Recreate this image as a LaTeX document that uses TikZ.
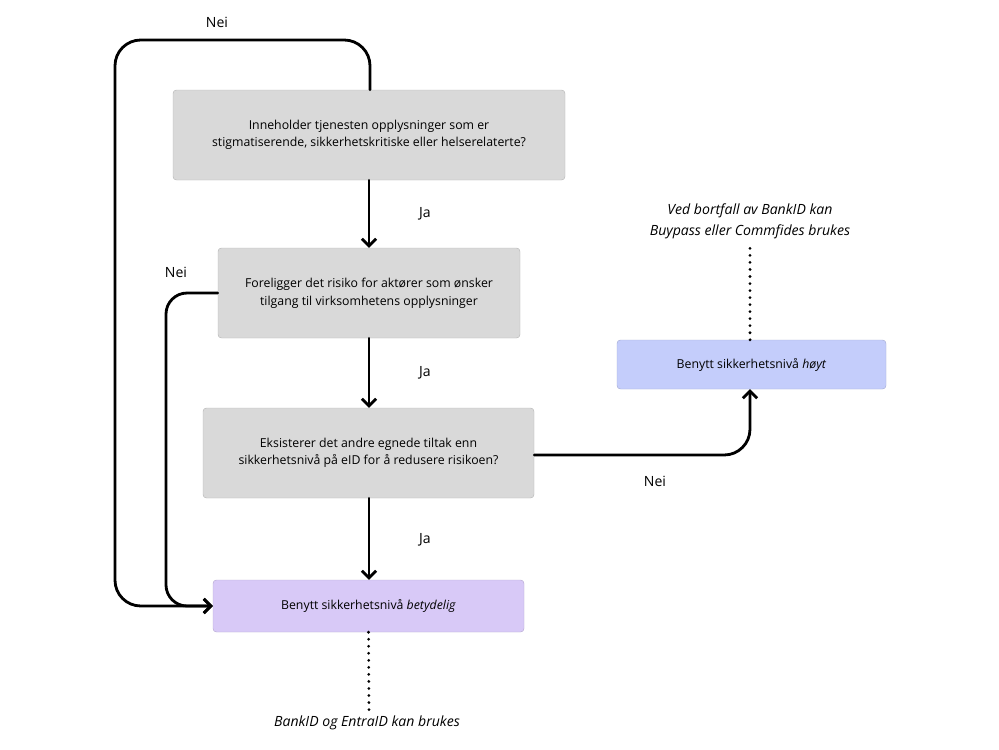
\documentclass[tikz,border=0pt]{standalone}
\usepackage{fontspec}
\setmainfont{Open Sans}
\usetikzlibrary{arrows.meta}
\definecolor{boxgray}{HTML}{D9D9D9}
\definecolor{boxpurple}{HTML}{D8C9F7}
\definecolor{boxblue}{HTML}{C4CDFB}
\begin{document}
\begin{tikzpicture}[x=0.03cm,y=-0.03cm,
  box/.style={rounded corners=3pt,draw=#1!85!black,line width=0.4pt,fill=#1,align=center,font=\fontsize{10.5}{15}\selectfont,inner sep=0pt},
  conn/.style={line width=2.4pt,rounded corners=14pt,-{Straight Barb[length=6pt,width=12pt,line width=2.4pt]},line cap=round,line join=round},
  dots/.style={line width=2.6pt,dash pattern=on 0pt off 6pt,line cap=round},
  lab/.style={font=\fontsize{12}{14}\selectfont},
  note/.style={font=\fontsize{12}{18}\selectfont\itshape,align=center}]
\path[use as bounding box,fill=white] (0,0) rectangle (999,749);
\node[box=boxgray,minimum width=392*0.03cm,minimum height=90*0.03cm] (b1) at (369,135) {Inneholder tjenesten opplysninger som er\\stigmatiserende, sikkerhetskritiske eller helserelaterte?};
\node[box=boxgray,minimum width=302*0.03cm,minimum height=90*0.03cm] (b2) at (369,293) {Foreligger det risiko for aktører som ønsker\\tilgang til virksomhetens opplysninger};
\node[box=boxgray,minimum width=331*0.03cm,minimum height=90*0.03cm] (b3) at (368.5,453) {Eksisterer det andre egnede tiltak enn\\sikkerhetsnivå på eID for å redusere risikoen?};
\node[box=boxpurple,minimum width=311*0.03cm,minimum height=52*0.03cm] (b4) at (368.5,606) {Benytt sikkerhetsnivå \textit{betydelig}};
\node[box=boxblue,minimum width=269*0.03cm,minimum height=49*0.03cm] (b5) at (751.5,364.5) {Benytt sikkerhetsnivå \textit{høyt}};
\coordinate (c1) at (370,40);
\coordinate (c2) at (115,40);
\coordinate (c3) at (115,606);
\coordinate (c4) at (166,293);
\coordinate (c5) at (166,606);
\coordinate (c6) at (750,455);
\draw[conn] (b1.south -| 369,0) -- (b2.north -| 369,0);
\draw[conn] (b2.south -| 369,0) -- (b3.north -| 369,0);
\draw[conn] (b3.south -| 369,0) -- (b4.north -| 369,0);
\draw[conn,rounded corners=22pt] (b1.north -| c1) -- (c1) -- (c2) -- (c3) -- (b4.west);
\draw[conn,rounded corners=18pt] (b2.west) -- (c4) -- (c5) -- (b4.west);
\draw[conn,rounded corners=22pt] (b3.east |- c6) -- (c6) -- (b5.south -| c6);
\node[lab] (n1) at (217,22) {Nei};
\node[lab] (n2) at (176,272) {Nei};
\node[lab] (n3) at (655,481) {Nei};
\node[lab] (j1) at (425,214) {Ja};
\node[lab] (j2) at (425,373) {Ja};
\node[lab] (j3) at (425,540) {Ja};
\node[note] (t1) at (367,723) {BankID og EntraID kan brukes};
\node[note] (t2) at (750,221) {Ved bortfall av BankID kan\\Buypass eller Commfides brukes};
\draw[dots] (b4.south) -- (369,712);
\draw[dots] (b5.north -| c6) -- (750,247);
\end{tikzpicture}
\end{document}
